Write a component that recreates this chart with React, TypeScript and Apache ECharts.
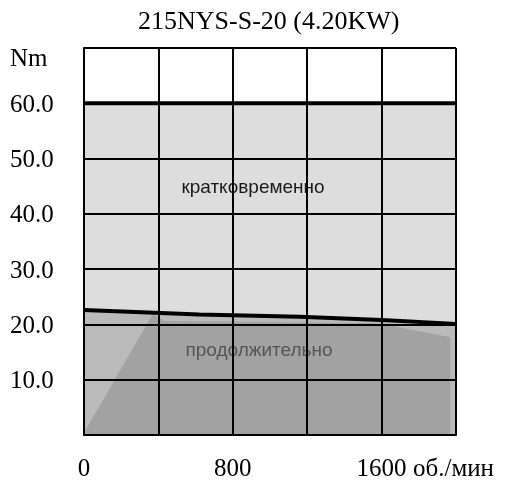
import React, { useEffect, useRef } from "react";
import * as echarts from "echarts";

const titleText = "215NYS-S-20 (4.20KW)";
const speedTicks = [0, 800, 1600];
const unitText = "об./мин";
const torqueUnit = "Nm";

// peak (short-time) torque
const peakSpeed = [0, 2000];
const peakTorque = [60, 60];

// continuous torque curve
const contSpeed = [0, 620, 1160, 1600, 2000];
const contTorque = [22.6, 21.8, 21.4, 20.8, 20.1];

// darker shaded region under the continuous curve
const darkSpeed = [0, 370, 430, 1580, 1970, 1970];
const darkTorque = [0.4, 21.9, 20.6, 20.2, 17.7, 0];

const labelShort = "кратковременно";
const labelCont = "продолжительно";

const zip = (xs: number[], ys: number[]) => xs.map((x, i) => [x, ys[i]]);

export default function App() {
  const ref = useRef<HTMLDivElement>(null);
  useEffect(() => {
    if (!ref.current) return;
    const chart = echarts.init(ref.current, null, { renderer: "svg" });
    const serif = "Liberation Serif";
    chart.setOption({
      animation: false,
      title: {
        text: titleText,
        left: 133,
        top: 2,
        textStyle: { fontFamily: serif, fontSize: 26, fontWeight: "normal", color: "#000" },
      },
      grid: { left: 84, right: 50, top: 48, bottom: 45 },
      xAxis: {
        type: "value",
        min: 0,
        max: 2000,
        interval: 400,
        z: 10,
        name: unitText,
        nameLocation: "end",
        nameGap: -43,
        nameTextStyle: {
          fontFamily: serif,
          fontSize: 25,
          color: "#000",
          align: "left",
          verticalAlign: "top",
          padding: [20, 0, 0, 0],
        },
        axisLine: { show: true, lineStyle: { color: "#000", width: 2 } },
        axisTick: { show: false },
        splitLine: { show: true, lineStyle: { color: "#000", width: 2 } },
        axisLabel: {
          margin: 20,
          fontFamily: serif,
          fontSize: 25,
          color: "#000",
          showMaxLabel: false,
          formatter: (v: number) => (speedTicks.includes(v) ? String(v) : ""),
        },
      },
      yAxis: {
        type: "value",
        min: 0,
        max: 70,
        interval: 10,
        z: 10,
        axisLine: { show: true, lineStyle: { color: "#000", width: 2 } },
        axisTick: { show: false },
        splitLine: { show: true, lineStyle: { color: "#000", width: 2 } },
        axisLabel: {
          margin: 74,
          align: "left",
          fontFamily: serif,
          fontSize: 25,
          color: "#000",
          formatter: (v: number) =>
            v === 0 ? "" : v === 70 ? "{n|" + torqueUnit + "}" : v.toFixed(1),
          rich: {
            n: { fontFamily: serif, fontSize: 25, color: "#000", padding: [18, 0, 0, 0] },
          },
        },
      },
      graphic: [
        {
          type: "text",
          x: 253,
          y: 186,
          z: 3,
          style: {
            text: labelShort,
            fontFamily: "Liberation Sans",
            fontSize: 19,
            fill: "#1a1a1a",
            align: "center",
            verticalAlign: "middle",
          },
        },
        {
          type: "text",
          x: 259,
          y: 349,
          z: 3,
          style: {
            text: labelCont,
            fontFamily: "Liberation Sans",
            fontSize: 19,
            fill: "#555",
            align: "center",
            verticalAlign: "middle",
          },
        },
      ],
      series: [
        {
          type: "line",
          data: zip(peakSpeed, peakTorque),
          symbol: "none",
          lineStyle: { width: 0 },
          areaStyle: { color: "#dddddd", opacity: 1 },
          z: 1,
        },
        {
          type: "line",
          data: zip(contSpeed, contTorque),
          symbol: "none",
          lineStyle: { width: 0 },
          areaStyle: { color: "#bababa", opacity: 1 },
          z: 1,
        },
        {
          type: "line",
          data: zip(darkSpeed, darkTorque),
          symbol: "none",
          lineStyle: { width: 0 },
          areaStyle: { color: "#a2a2a2", opacity: 1 },
          z: 1,
        },
        {
          type: "line",
          data: zip(peakSpeed, peakTorque),
          symbol: "none",
          lineStyle: { color: "#000", width: 4 },
          z: 12,
        },
        {
          type: "line",
          data: zip(contSpeed, contTorque),
          symbol: "none",
          lineStyle: { color: "#000", width: 4 },
          z: 12,
        },
      ],
    });
    return () => chart.dispose();
  }, []);
  return (
    <div
      ref={ref}
      style={{ position: "fixed", left: 0, top: 0, width: 506, height: 480 }}
    />
  );
}
